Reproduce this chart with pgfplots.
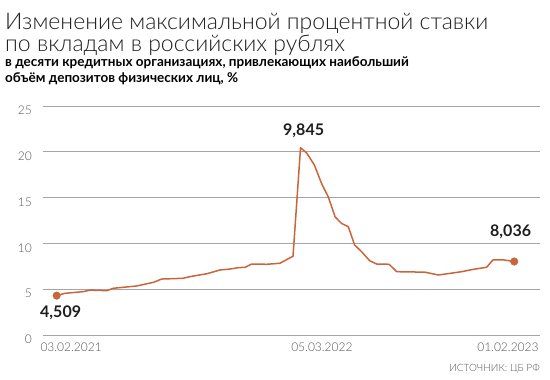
\documentclass[border=0pt]{standalone}
\usepackage{fontspec}
\IfFontExistsTF{Lato Light}{\newfontfamily\lightfont{Lato Light}}{\newfontfamily\lightfont{Lato}}
\setmainfont{Lato}
\usepackage{pgfplots}
\pgfplotsset{compat=1.18}
\definecolor{lineC}{RGB}{201,101,58}
\definecolor{gridC}{RGB}{165,165,165}
\definecolor{tickC}{RGB}{85,85,85}
\definecolor{textC}{RGB}{30,30,30}

\pgfplotstableread{
day value
0 4.30
13 4.55
42 4.73
53 4.90
80 4.84
90 5.10
127 5.35
154 5.75
167 6.11
201 6.19
212 6.37
239 6.69
260 7.10
276 7.20
289 7.35
300 7.39
310 7.75
334 7.72
355 7.83
376 8.60
388 20.45
398 19.84
410 18.56
422 16.45
432 15.10
443 12.90
453 12.19
464 11.82
474 9.83
485 9.10
498 8.11
509 7.75
529 7.72
541 6.91
586 6.86
607 6.55
626 6.73
644 6.91
663 7.17
684 7.39
694 8.19
712 8.19
728 8.02
}\ratetable

\begin{document}
\begin{tikzpicture}[x=1pt,y=1pt]
\path[use as bounding box] (0,0) rectangle (550,380);
\begin{axis}[
  at={(43pt,45pt)}, anchor=south west,
  scale only axis, width=497pt, height=229pt,
  xmin=-21.8, xmax=769, ymin=0, ymax=25,
  ytick={0,5,10,15,20,25},
  xtick={23,422,718},
  xticklabels={03.02.2021,05.03.2022,01.02.2023},
  ymajorgrids, grid style={gridC, line width=0.9pt},
  axis line style={draw=none},
  major tick length=0pt,
  tick label style={font=\lightfont\fontsize{12}{12}\selectfont, text=tickC},
  yticklabel style={anchor=east, inner sep=0pt, xshift=-11pt, yshift=-4.5pt},
  xticklabel style={anchor=base, inner sep=0pt, yshift=-16.7pt},
  /pgf/number format/assume math mode=true,
  clip=false,
]
\addplot[lineC, line width=1.5pt, line join=round] table[x=day, y=value] {\ratetable};
\addplot[only marks, mark=*, mark size=3.8pt, mark options={fill=lineC, draw=lineC}] coordinates {(0,4.30) (728,8.02)};
\end{axis}
\node[anchor=base west, inner sep=0pt, font=\lightfont\fontsize{23}{23}\selectfont, text=textC] at (5,350) {Изменение максимальной процентной ставки};
\node[anchor=base west, inner sep=0pt, font=\lightfont\fontsize{23}{23}\selectfont, text=textC] at (5,328.3) {по вкладам в российских рублях};
\node[anchor=base west, inner sep=0pt, font=\bfseries\fontsize{13.5}{13.5}\selectfont, text=black] at (5,313.3) {в десяти кредитных организациях, привлекающих наибольший};
\node[anchor=base west, inner sep=0pt, font=\bfseries\fontsize{13.5}{13.5}\selectfont, text=black] at (5,297.7) {объём депозитов физических лиц, \%};
\node[anchor=base west, inner sep=0pt, font=\bfseries\fontsize{16}{16}\selectfont, text=textC] at (40,62) {4,509};
\node[anchor=base west, inner sep=0pt, font=\bfseries\fontsize{16}{16}\selectfont, text=textC] at (283,244.3) {9,845};
\node[anchor=base west, inner sep=0pt, font=\bfseries\fontsize{16}{16}\selectfont, text=textC] at (490,143) {8,036};
\node[anchor=base east, inner sep=0pt, font=\lightfont\fontsize{10}{10}\selectfont, text=tickC] at (540,8) {ИСТОЧНИК: ЦБ РФ};
\end{tikzpicture}
\end{document}
